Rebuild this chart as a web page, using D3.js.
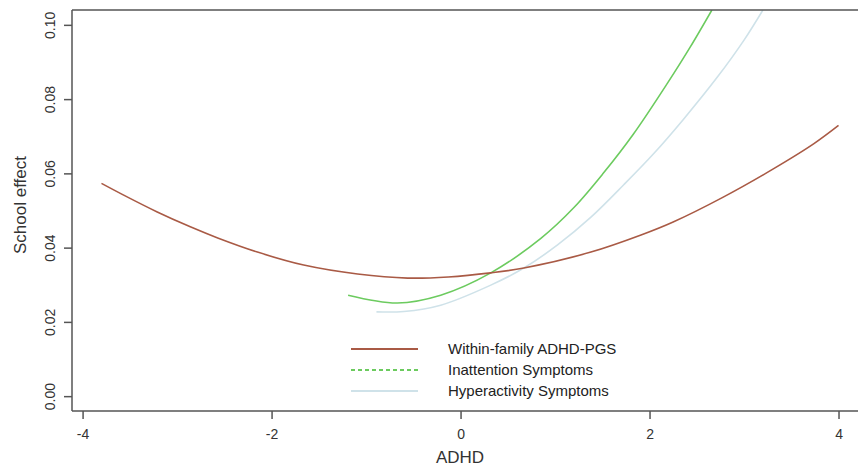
<!DOCTYPE html>
<html>
<head>
<meta charset="utf-8">
<script src="https://cdn.jsdelivr.net/npm/d3@7"></script>
<style>
  html, body { margin: 0; padding: 0; background: #fff; }
  svg { display: block; font-family: "Liberation Sans", Arial, sans-serif; }
</style>
</head>
<body>
<svg id="chart" width="858" height="468"></svg>
<script>
// ---- data ----
const pgsX = [-3.8, -3.57, -3.21, -2.86, -2.57, -2.15, -1.66, -1.09, -0.56, -0.13, 0.32, 0.67, 1.38, 1.91, 2.25, 2.78, 3.31, 3.74, 4.0];
const pgsY = [0.0573, 0.0542, 0.0496, 0.0456, 0.0426, 0.0388, 0.0353, 0.0329, 0.0318, 0.0321, 0.0332, 0.0345, 0.0388, 0.0434, 0.0469, 0.0536, 0.0612, 0.0680, 0.0729];

const inattX = [-1.19, -0.67, -0.21, 0.32, 0.85, 1.20, 1.51, 1.83, 2.19, 2.43, 2.66];
const inattY = [0.0272, 0.0251, 0.0272, 0.0332, 0.0425, 0.0508, 0.0600, 0.0706, 0.0843, 0.0940, 0.1040];

const hyperX = [-0.89, -0.6, -0.21, 0.32, 0.67, 1.03, 1.38, 1.73, 2.04, 2.36, 2.72, 3.0, 3.2];
const hyperY = [0.0227, 0.0228, 0.0245, 0.0299, 0.0345, 0.0408, 0.0482, 0.0570, 0.0652, 0.0746, 0.0860, 0.0959, 0.1040];

const seriesNames = ["Within-family ADHD-PGS", "Inattention Symptoms", "Hyperactivity Symptoms"];
const xTicks = [-4, -2, 0, 2, 4];
const yTicks = [0.00, 0.02, 0.04, 0.06, 0.08, 0.10];
const xDomain = [-4.112, 4.312];
const yDomain = [-0.004, 0.104];

// ---- layout ----
const svg = d3.select("#chart");
const L = 72, T = 10, R = 868, B = 411;
const x = d3.scaleLinear().domain(xDomain).range([L, R]);
const y = d3.scaleLinear().domain(yDomain).range([B, T]);

const series = [
  { name: seriesNames[0], xs: pgsX, ys: pgsY, color: "#A95A45", dash: null },
  { name: seriesNames[1], xs: inattX, ys: inattY, color: "#6CCB5F", dash: "4,3" },
  { name: seriesNames[2], xs: hyperX, ys: hyperY, color: "#CFE2E9", dash: null }
];

svg.append("defs").append("clipPath").attr("id", "clip")
  .append("rect").attr("x", L).attr("y", T).attr("width", R - L).attr("height", B - T);

const line = d3.line().x(d => x(d[0])).y(d => y(d[1])).curve(d3.curveCatmullRom.alpha(0.5));

const g = svg.append("g").attr("clip-path", "url(#clip)");
[series[2], series[1], series[0]].forEach(s => {
  g.append("path")
    .datum(s.xs.map((v, i) => [v, s.ys[i]]))
    .attr("d", line)
    .attr("fill", "none")
    .attr("stroke", s.color)
    .attr("stroke-width", 1.6);
});

// ---- frame ----
const frameColor = "#555";
svg.append("line").attr("x1", L).attr("x2", L).attr("y1", T).attr("y2", B).attr("stroke", frameColor).attr("stroke-width", 1.5);
svg.append("line").attr("x1", L).attr("x2", 858).attr("y1", T).attr("y2", T).attr("stroke", frameColor).attr("stroke-width", 1.5);
svg.append("line").attr("x1", L).attr("x2", 858).attr("y1", B).attr("y2", B).attr("stroke", frameColor).attr("stroke-width", 1.5);

// ---- axes ----
const xAxis = d3.axisBottom(x).tickValues(xTicks).tickSize(8).tickPadding(10).tickFormat(d3.format("d"));
const gx = svg.append("g").attr("transform", `translate(0,${B})`).call(xAxis);
gx.select(".domain").remove();
gx.selectAll(".tick line").attr("stroke", frameColor).attr("stroke-width", 1.5);
gx.selectAll(".tick text").attr("fill", "#333").style("font-size", "14px")
  .text(d => d < 0 ? "-" + Math.abs(d) : String(d));

const yAxis = d3.axisLeft(y).tickValues(yTicks).tickSize(8).tickFormat(d3.format(".2f"));
const gy = svg.append("g").attr("transform", `translate(${L},0)`).call(yAxis);
gy.select(".domain").remove();
gy.selectAll(".tick line").attr("stroke", frameColor).attr("stroke-width", 1.5);
gy.selectAll(".tick text")
  .attr("fill", "#333").style("font-size", "14px")
  .attr("x", null).attr("dy", null)
  .attr("transform", "translate(-17,0) rotate(-90)")
  .attr("text-anchor", "middle");

// axis titles
svg.append("text").attr("x", 460).attr("y", 463).attr("text-anchor", "middle")
  .attr("fill", "#333").style("font-size", "17px").text("ADHD");
svg.append("text").attr("transform", "translate(26,205) rotate(-90)").attr("text-anchor", "middle")
  .attr("fill", "#333").style("font-size", "17px").text("School effect");

// ---- legend ----
const lg = svg.append("g");
series.forEach((s, i) => {
  const cy = 349 + i * 21;
  lg.append("line").attr("x1", 351).attr("x2", 418).attr("y1", cy).attr("y2", cy)
    .attr("stroke", s.color).attr("stroke-width", 1.8)
    .attr("stroke-dasharray", s.dash);
  lg.append("text").attr("x", 448).attr("y", cy + 5).attr("fill", "#222")
    .style("font-size", "15px").text(s.name);
});
</script>
</body>
</html>
